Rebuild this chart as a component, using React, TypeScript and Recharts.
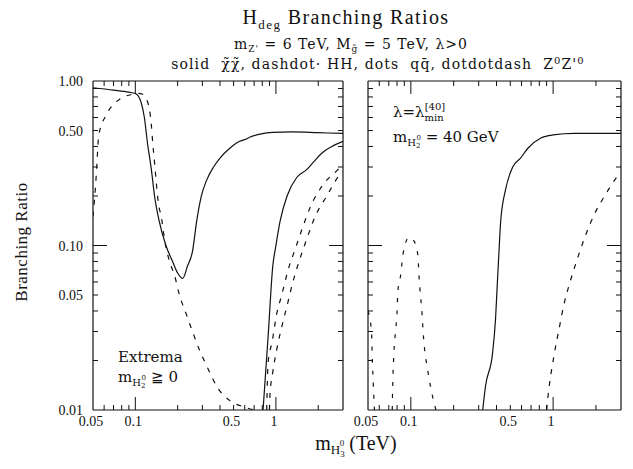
import React from "react";
import { LineChart, Line, XAxis, YAxis } from "recharts";

// ---- data (x = m_H3 in TeV, y = branching ratio) ----

// left panel: "Extrema, m_H2 >= 0"
const leftChiLow = [
  [0.05, 0.91], [0.07, 0.88], [0.09, 0.855], [0.1, 0.84], [0.105, 0.81], [0.11, 0.74],
  [0.116, 0.6], [0.122, 0.42], [0.13, 0.29], [0.137, 0.2], [0.148, 0.14], [0.165, 0.1],
  [0.184, 0.08], [0.2, 0.068], [0.217, 0.063], [0.235, 0.075], [0.255, 0.092],
  [0.273, 0.14], [0.295, 0.2], [0.32, 0.247], [0.36, 0.3], [0.4, 0.34], [0.47, 0.39],
  [0.553, 0.43], [0.6, 0.44], [0.65, 0.455], [0.77, 0.475], [0.95, 0.487], [1.3, 0.49],
  [2, 0.485], [3, 0.48],
];
const leftHHLow = [
  [0.05, 0.15], [0.0515, 0.2], [0.0527, 0.265], [0.055, 0.47], [0.062, 0.62],
  [0.075, 0.76], [0.095, 0.83], [0.105, 0.84], [0.113, 0.83], [0.122, 0.75],
  [0.13, 0.54], [0.133, 0.42], [0.137, 0.32], [0.141, 0.24], [0.146, 0.18],
  [0.153, 0.15], [0.161, 0.11], [0.175, 0.08], [0.19, 0.066], [0.206, 0.05],
  [0.231, 0.038], [0.255, 0.03], [0.287, 0.023], [0.327, 0.018], [0.38, 0.0139],
  [0.47, 0.0114], [0.6, 0.0104], [0.7, 0.01],
];
const leftChiHigh = [
  [0.81, 0.01], [0.88, 0.028], [0.95, 0.075], [1.0, 0.1], [1.07, 0.14], [1.2, 0.2],
  [1.41, 0.26], [1.66, 0.29], [1.84, 0.32], [2.17, 0.37], [2.5, 0.4], [3, 0.43],
];
const leftHHHigh = [
  [0.86, 0.01], [0.88, 0.0195], [0.94, 0.026], [1.01, 0.038], [1.1, 0.05], [1.22, 0.071],
  [1.37, 0.095], [1.54, 0.127], [1.75, 0.17], [2.13, 0.23], [2.77, 0.29], [3, 0.31],
];
const leftZZHigh = [
  [0.9, 0.01], [0.905, 0.012], [0.95, 0.017], [1.01, 0.023], [1.1, 0.032], [1.2, 0.043],
  [1.32, 0.06], [1.46, 0.08], [1.66, 0.11], [1.9, 0.15], [2.3, 0.2], [2.86, 0.27], [3, 0.28],
];

// right panel: "lambda = lambda_min^[40], m_H2 = 40 GeV"
const rightChi = [
  [0.32, 0.01], [0.335, 0.014], [0.375, 0.022], [0.394, 0.036], [0.407, 0.063],
  [0.414, 0.083], [0.428, 0.14], [0.464, 0.22], [0.52, 0.3], [0.59, 0.34], [0.665, 0.39],
  [0.82, 0.45], [1.0, 0.47], [1.41, 0.48], [3, 0.48],
];
const rightHHPeak = [
  [0.074, 0.01], [0.0745, 0.0136], [0.076, 0.022], [0.078, 0.03], [0.08, 0.039],
  [0.081, 0.052], [0.085, 0.067], [0.088, 0.088], [0.097, 0.112], [0.104, 0.108],
  [0.112, 0.088], [0.114, 0.066], [0.12, 0.038], [0.122, 0.03], [0.132, 0.017],
  [0.141, 0.0125], [0.15, 0.01],
];
const rightEdge = [
  [0.05, 0.04], [0.0529, 0.03], [0.0537, 0.0194], [0.0545, 0.0142], [0.0555, 0.01],
];
const rightHHHigh = [
  [0.9, 0.01], [0.92, 0.012], [1.02, 0.022], [1.1, 0.031], [1.2, 0.045], [1.3, 0.058],
  [1.46, 0.08], [1.95, 0.155], [2.3, 0.2], [2.8, 0.26], [3, 0.28],
];

// ---- axes ----
const xTicks = [0.05, 0.06, 0.07, 0.08, 0.09, 0.1, 0.2, 0.3, 0.4, 0.5, 0.6, 0.7, 0.8, 0.9, 1, 2];
const xMajor = [0.1, 1];
const xLabelVals = [0.05, 0.1, 0.5, 1];
const xLabelText = ["0.05", "0.1", "0.5", "1"];

const yTicks = [
  0.01, 0.02, 0.03, 0.04, 0.05, 0.06, 0.07, 0.08, 0.09,
  0.1, 0.2, 0.3, 0.4, 0.5, 0.6, 0.7, 0.8, 0.9, 1,
];
const yMajor = [0.1];
const yLabelVals = [0.01, 0.05, 0.1, 0.5, 1];
const yLabelText = ["0.01", "0.05", "0.10", "0.50", "1.00"];

const FONT = "'Liberation Serif', 'DejaVu Serif', serif";
const WIDE = "'DejaVu Serif', serif";
const INK = "#111";
const SP = "\u00a0";

const near = (a: number, b: number) => Math.abs(a - b) < 1e-9;
const toPts = (a: number[][]) => a.map(([x, y]) => ({ x, y }));

function XTick(props: any) {
  const { x, y, payload, top, labels } = props;
  const v = payload.value;
  const edge = near(v, 0.05);
  const len = edge ? 0 : xMajor.some((m) => near(m, v)) ? 13 : 5;
  const dir = top ? 1 : -1;
  const i = xLabelVals.findIndex((m) => near(m, v));
  return (
    <g>
      {len > 0 && <line x1={x} x2={x} y1={y} y2={y + dir * len} stroke={INK} strokeWidth={1} />}
      {labels && i >= 0 && (
        <text x={x - 2} y={y + 16} textAnchor="middle" fontSize={14} fontFamily={FONT} fill={INK}>
          {xLabelText[i]}
        </text>
      )}
    </g>
  );
}

function YTick(props: any) {
  const { x, y, payload, right, labels } = props;
  const v = payload.value;
  const edge = near(v, 0.01) || near(v, 1);
  const len = edge ? 0 : yMajor.some((m) => near(m, v)) ? 14 : 5;
  const dir = right ? -1 : 1;
  const i = yLabelVals.findIndex((m) => near(m, v));
  return (
    <g>
      {len > 0 && <line x1={x} x2={x + dir * len} y1={y} y2={y} stroke={INK} strokeWidth={1} />}
      {labels && i >= 0 && (
        <text x={x - 10} y={y + 5} textAnchor="end" fontSize={14} fontFamily={FONT} fill={INK}>
          {yLabelText[i]}
        </text>
      )}
    </g>
  );
}

type Series = { data: number[][]; dash?: string };

// axes get a small box (recharts skips zero-sized axes); margins are set so
// the plot area lands on the frame of the original
function Panel({ width, margin, series, yLabels }: any) {
  const axisLine = { stroke: INK, strokeWidth: 1.2 };
  return (
    <LineChart width={width} height={469} margin={margin}>
      <XAxis
        dataKey="x" type="number" scale="log" domain={[0.05, 3]} allowDataOverflow
        ticks={xTicks} interval={0} height={30} tickSize={0} tickMargin={0}
        axisLine={axisLine} tickLine={false}
        tick={(p: any) => <XTick {...p} labels />}
      />
      <XAxis
        xAxisId="top" orientation="top" dataKey="x" type="number" scale="log"
        domain={[0.05, 3]} allowDataOverflow ticks={xTicks} interval={0} height={1}
        tickSize={0} tickMargin={0} axisLine={axisLine} tickLine={false}
        tick={(p: any) => <XTick {...p} top />}
      />
      <YAxis
        type="number" scale="log" domain={[0.01, 1]} allowDataOverflow ticks={yTicks}
        interval={0} width={1} tickSize={0} tickMargin={0}
        axisLine={axisLine} tickLine={false}
        tick={(p: any) => <YTick {...p} labels={yLabels} />}
      />
      <YAxis
        yAxisId="right" orientation="right" type="number" scale="log" domain={[0.01, 1]}
        allowDataOverflow ticks={yTicks} interval={0} width={1} tickSize={0} tickMargin={0}
        axisLine={axisLine} tickLine={false}
        tick={(p: any) => <YTick {...p} right />}
      />
      {series.map((s: Series, i: number) => (
        <Line
          key={i}
          data={toPts(s.data)}
          dataKey="y"
          type="monotone"
          stroke={INK}
          strokeWidth={1.2}
          strokeDasharray={s.dash}
          dot={false}
          activeDot={false}
          isAnimationActive={false}
        />
      ))}
    </LineChart>
  );
}

const leftSeries: Series[] = [
  { data: leftChiLow },
  { data: leftHHLow, dash: "5 7" },
  { data: leftChiHigh },
  { data: leftHHHigh, dash: "5 7" },
  { data: leftZZHigh, dash: "5 7" },
];
const rightSeries: Series[] = [
  { data: rightChi },
  { data: rightHHPeak, dash: "4 8" },
  { data: rightEdge, dash: "4 8" },
  { data: rightHHHigh, dash: "5 7" },
];

export default function App() {
  const t = { fontFamily: FONT, fill: INK } as const;
  const w = { fontFamily: WIDE, fill: INK } as const;
  return (
    <div style={{ position: "absolute", left: 0, top: 0, width: 633, height: 469, background: "#fff" }}>
      <div style={{ position: "absolute", left: 0, top: 0 }}>
        <Panel width={350} margin={{ top: 80, right: 6, bottom: 29, left: 92 }} series={leftSeries} yLabels />
      </div>
      <div style={{ position: "absolute", left: 350, top: 0 }}>
        <Panel width={283} margin={{ top: 80, right: 11, bottom: 29, left: 17 }} series={rightSeries} />
      </div>
      <svg width={633} height={469} style={{ position: "absolute", left: 0, top: 0, pointerEvents: "none" }}>
        <text x={346} y={24} textAnchor="middle" fontSize={20} letterSpacing={1.4} {...t}>
          H<tspan dy={5} fontSize={13}>deg</tspan>
          <tspan dy={-5}> Branching Ratios</tspan>
        </text>
        <text x={351} y={49} textAnchor="middle" fontSize={14} letterSpacing={1} {...w}>
          m<tspan dy={3} fontSize={9}>Z'</tspan>
          <tspan dy={-3}> = 6 TeV, M</tspan>
          <tspan dy={3} fontSize={9}>g̃</tspan>
          <tspan dy={-3}> = 5 TeV, λ&gt;0</tspan>
        </text>
        <text x={378} y={69} textAnchor="middle" fontSize={14} letterSpacing={1.1} {...w}>
          {`solid${SP}${SP}χ̃χ̃, dashdot· HH, dots${SP}${SP}qq̄, dotdotdash${SP}${SP}Z`}
          <tspan dy={-5} fontSize={10}>0</tspan>
          <tspan dy={5}>Z'</tspan>
          <tspan dy={-5} fontSize={10}>0</tspan>
        </text>
        <text x={27} y={242} transform="rotate(-90 27 242)" textAnchor="middle" fontSize={17} letterSpacing={0.5} {...t}>
          Branching Ratio
        </text>
        <text x={356} y={450} textAnchor="middle" fontSize={20} {...t}>
          m<tspan dy={4} fontSize={13}>H</tspan>
          <tspan dy={3} fontSize={9}>3</tspan>
          <tspan dx={-5} dy={-11} fontSize={9}>0</tspan>
          <tspan dx={5} dy={4} fontSize={20}>(TeV)</tspan>
        </text>
        <text x={118} y={362} fontSize={15} {...w}>Extrema</text>
        <text x={118} y={382} fontSize={15} {...w}>
          m<tspan dy={4} fontSize={10}>H</tspan>
          <tspan dy={2} fontSize={7}>2</tspan>
          <tspan dx={-4} dy={-8} fontSize={7}>0</tspan>
          <tspan dy={2} fontSize={15}> ≧ 0</tspan>
        </text>
        <text x={393} y={117} fontSize={15} {...w}>
          λ=λ<tspan dy={4} fontSize={10}>min</tspan>
          <tspan dx={-19} dy={-11} fontSize={10}>[40]</tspan>
        </text>
        <text x={393} y={142} fontSize={15} {...w}>
          m<tspan dy={4} fontSize={10}>H</tspan>
          <tspan dy={2} fontSize={7}>2</tspan>
          <tspan dx={-4} dy={-8} fontSize={7}>0</tspan>
          <tspan dy={2} fontSize={15}> = 40 GeV</tspan>
        </text>
      </svg>
    </div>
  );
}
